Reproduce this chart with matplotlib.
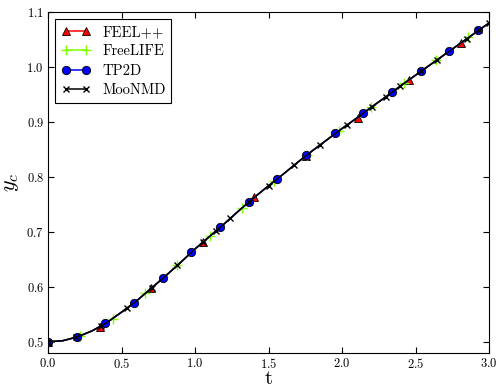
import matplotlib
matplotlib.use('Agg')
from matplotlib import pyplot as plt
from matplotlib.lines import Line2D

plt.rcParams['font.family'] = ['cmr10', 'DejaVu Serif']
plt.rcParams['mathtext.fontset'] = 'cm'
plt.rcParams['axes.formatter.use_mathtext'] = True

# centre height of the body (same curve for all codes)
t_curve = [0.0, 0.1, 0.2, 0.3, 0.4, 0.5, 0.6, 0.7, 0.8, 0.9, 1.0,
           1.1, 1.2, 1.3, 1.4, 1.5, 1.6, 1.7, 1.8, 1.9, 2.0,
           2.1, 2.2, 2.3, 2.4, 2.5, 2.6, 2.7, 2.8, 2.9, 3.0]
y_curve = [0.500, 0.502, 0.509, 0.520, 0.535, 0.554, 0.574, 0.597, 0.620, 0.644, 0.669,
           0.692, 0.715, 0.739, 0.762, 0.784, 0.805, 0.827, 0.848, 0.868, 0.888,
           0.907, 0.927, 0.946, 0.966, 0.985, 1.004, 1.023, 1.042, 1.061, 1.080]

t_feel = [0.0, 0.351, 0.702, 1.053, 1.404, 1.755, 2.106, 2.457, 2.808]
y_feel = [0.500, 0.527, 0.597, 0.681, 0.763, 0.838, 0.908, 0.977, 1.044]

t_free = [0.0, 0.22, 0.44, 0.66, 0.88, 1.10, 1.32, 1.54, 1.76, 1.98, 2.20, 2.42, 2.64, 2.86]
y_free = [0.500, 0.511, 0.541, 0.588, 0.639, 0.692, 0.744, 0.792, 0.840, 0.884, 0.927, 0.970, 1.012, 1.054]

t_tp2d = [0.0, 0.195, 0.39, 0.585, 0.78, 0.975, 1.17, 1.365, 1.56, 1.755, 1.95,
          2.145, 2.34, 2.535, 2.73, 2.925]
y_tp2d = [0.500, 0.5085, 0.534, 0.5715, 0.616, 0.6636, 0.7096, 0.755, 0.797, 0.8395, 0.879,
          0.917, 0.955, 0.9927, 1.0296, 1.067]

t_moon = [0.0, 0.188, 0.36, 0.535, 0.705, 0.88, 1.057, 1.14, 1.24, 1.37, 1.5, 1.676,
          1.851, 2.033, 2.202, 2.30, 2.395, 2.54, 2.649, 2.849, 2.933, 3.0]
y_moon = [0.500, 0.508, 0.529, 0.561, 0.598, 0.639, 0.682, 0.701, 0.725, 0.755, 0.784, 0.822,
          0.858, 0.894, 0.927, 0.946, 0.965, 0.993, 1.013, 1.051, 1.067, 1.080]

fig = plt.figure(figsize=(4.96, 3.86), dpi=100)
ax = fig.add_axes([0.097, 0.086, 0.889, 0.883])

styles = [
    ('FEEL++', t_feel, y_feel, dict(color='r', marker='^', ms=6, mfc='r', mec='k', mew=0.6)),
    ('FreeLIFE', t_free, y_free, dict(color='#7fff00', marker='+', ms=7, mew=1.0)),
    ('TP2D', t_tp2d, y_tp2d, dict(color='b', marker='o', ms=6, mfc='b', mec='k', mew=0.6)),
    ('MooNMD', t_moon, y_moon, dict(color='k', marker='x', ms=5, mew=1.0)),
]

handles = []
for name, ts, ys, st in styles:
    ax.plot(t_curve, y_curve, '-', color=st['color'], lw=1.1)
    ax.plot(ts, ys, ls='none', **st)
    handles.append(Line2D([], [], ls='-', lw=1.1, **st))

ax.set_xlim(0, 3.0)
ax.set_ylim(0.48, 1.1)
ax.set_xticks([0.0, 0.5, 1.0, 1.5, 2.0, 2.5, 3.0])
ax.set_yticks([0.5, 0.6, 0.7, 0.8, 0.9, 1.0, 1.1])
ax.tick_params(direction='in', top=True, right=True, length=4, width=0.8,
               labelsize=9, pad=3)
ax.set_xlabel('t', fontsize=15, labelpad=-1)
ax.set_ylabel('$y_c$', fontsize=16, labelpad=4)

leg = ax.legend(handles, ['FEEL++', 'FreeLIFE', 'TP2D', 'MooNMD'], loc='upper left',
                numpoints=2, fontsize=10.5, fancybox=False, framealpha=1,
                handlelength=2.0, handletextpad=0.8, borderpad=0.4,
                labelspacing=0.4)
leg.get_frame().set_edgecolor('k')
leg.get_frame().set_linewidth(0.8)

fig.savefig('out.png', dpi=100)
